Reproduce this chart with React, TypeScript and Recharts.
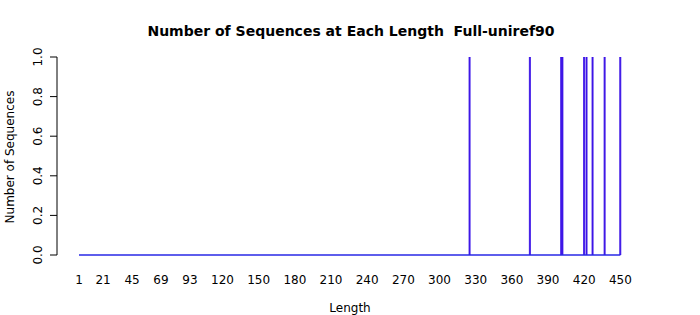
import React from "react";
import { BarChart, Bar, XAxis, YAxis, ReferenceLine } from "recharts";

const maxLength = 450;
const seqLengths = [325, 375, 401, 402, 420, 422, 427, 437, 450];
const seqCounts = [1, 1, 1, 1, 1, 1, 1, 1, 1];
const xTicks = [1, 21, 45, 69, 93, 120, 150, 180, 210, 240, 270, 300, 330, 360, 390, 420, 450];
const yTicks = [0, 0.2, 0.4, 0.6, 0.8, 1.0];

const data = Array.from({ length: maxLength }, (_, i) => {
  const len = i + 1;
  const idx = seqLengths.indexOf(len);
  return { len, count: idx >= 0 ? seqCounts[idx] : 0 };
});

const FONT = "DejaVu Sans, Verdana, sans-serif";
const BAR_COLOR = "#3A12E6";

const YTick = (props: any) => {
  const { y, payload } = props;
  const tx = 42;
  return (
    <text
      x={tx}
      y={y}
      transform={`rotate(-90 ${tx} ${y})`}
      textAnchor="middle"
      fontSize={12}
      fontFamily={FONT}
      fill="#000"
    >
      {Number(payload.value).toFixed(1)}
    </text>
  );
};

export default function App() {
  return (
    <div style={{ position: "absolute", left: 0, top: 0, width: 700, height: 315, background: "#fff" }}>
      <BarChart
        width={700}
        height={315}
        data={data}
        margin={{ top: 57, right: 57, bottom: 30, left: 0 }}
        barCategoryGap={0}
        barGap={0}
      >
        <XAxis
          dataKey="len"
          type="category"
          ticks={xTicks}
          interval={0}
          padding={{ left: 21.4, right: 22 }}
          axisLine={false}
          tickLine={false}
          tickSize={0}
          tickMargin={20}
          height={30}
          tick={{ fontSize: 12, fontFamily: FONT, fill: "#000" }}
        />
        <YAxis
          type="number"
          domain={[0, 1]}
          ticks={yTicks}
          width={57}
          tickSize={7}
          axisLine={{ stroke: "#000" }}
          tickLine={{ stroke: "#000" }}
          tick={<YTick />}
          allowDataOverflow
        />
        <ReferenceLine
          segment={[{ x: 1, y: 0 }, { x: 450, y: 0 }]}
          stroke="#2828E6"
          strokeWidth={1.3}
        />
        <Bar
          dataKey="count"
          fill={BAR_COLOR}
          stroke={BAR_COLOR}
          strokeWidth={0.9}
          isAnimationActive={false}
        />
      </BarChart>
      <svg
        width={700}
        height={315}
        style={{ position: "absolute", left: 0, top: 0, pointerEvents: "none" }}
      >
        <text
          x={351}
          y={36}
          textAnchor="middle"
          fontSize={14}
          fontWeight="bold"
          fontFamily={FONT}
          fill="#000"
          style={{ whiteSpace: "pre" }}
        >
          {"Number of Sequences at Each Length\u00A0\u00A0Full-uniref90"}
        </text>
        <text x={350} y={311.5} textAnchor="middle" fontSize={12} fontFamily={FONT} fill="#000">
          Length
        </text>
        <text
          x={13.5}
          y={157}
          transform="rotate(-90 13.5 157)"
          textAnchor="middle"
          fontSize={12}
          fontFamily={FONT}
          fill="#000"
        >
          Number of Sequences
        </text>
      </svg>
    </div>
  );
}
